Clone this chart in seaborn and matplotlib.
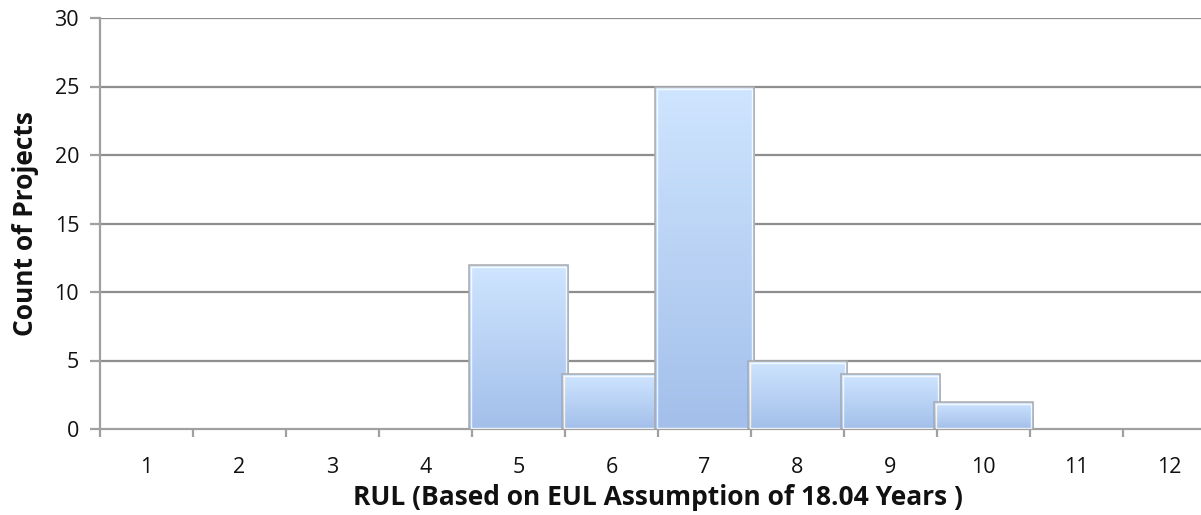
import numpy as np
import matplotlib
matplotlib.use("Agg")
import matplotlib.pyplot as plt
from matplotlib.patches import Rectangle
from matplotlib.colors import LinearSegmentedColormap
import seaborn as sns

# Histogram of remaining useful life (years) per project
rul_years = ["1", "2", "3", "4", "5", "6", "7", "8", "9", "10", "11", "12"]
project_counts = [0, 0, 0, 0, 12, 4, 25, 5, 4, 2, 0, 0]
y_ticks = [0, 5, 10, 15, 20, 25, 30]

x_title = "RUL (Based on EUL Assumption of 18.04 Years )"
y_title = "Count of Projects"

sns.set_style("white")
plt.rcParams["font.family"] = ["Open Sans", "DejaVu Sans"]

W, H = 1201, 515
fig = plt.figure(figsize=(W / 100, H / 100), dpi=100)
ax = fig.add_axes([100 / W, 86 / H, 1116 / W, 411 / H])

sns.barplot(x=rul_years, y=project_counts, order=rul_years, width=1.065,
            color="#b8d2f5", edgecolor="#a9a9a9", linewidth=1.1,
            saturation=1, ax=ax, zorder=3)

ax.set_xlim(-0.5, len(rul_years) - 0.5)
ax.set_ylim(0, 30)
ax.set_yticks(y_ticks)
ax.set_yticklabels([str(t) for t in y_ticks])

grid_col = "#8e8e8e"
axis_col = "#a0a0a0"
for y in y_ticks[1:]:
    ax.axhline(y, color=grid_col, lw=1.6, zorder=1)

for s in ["top", "right"]:
    ax.spines[s].set_visible(False)
for s in ["left", "bottom"]:
    ax.spines[s].set_color(axis_col)
    ax.spines[s].set_linewidth(1.6)

# category labels centred, tick marks on the category boundaries
ax.set_xticks(np.arange(len(rul_years)))
ax.set_xticklabels(rul_years)
ax.set_xticks(np.arange(-0.5, len(rul_years)), minor=True)
ax.tick_params(axis="x", which="major", length=0, pad=20, labelsize=15.5,
               labelcolor="#111111")
ax.tick_params(axis="x", which="minor", length=6, width=1.6, color=axis_col,
               direction="out", bottom=True)
ax.tick_params(axis="y", which="major", length=7, width=1.6, color=axis_col,
               direction="out", left=True, pad=8, labelsize=15.5,
               labelcolor="#111111")
ax.set_xlabel("")
ax.set_ylabel("")

# vertical gradient fill clipped to each bar, plus a thin light inner border;
# later bars sit on top of the edges of earlier ones
cmap = LinearSegmentedColormap.from_list("barfill", ["#a3bfea", "#cfe5ff"])
grad = np.linspace(0, 1, 256).reshape(-1, 1)
fig.canvas.draw()
inv = ax.transData.inverted()
px = inv.transform((2, 0))[0] - inv.transform((0, 0))[0]
py = inv.transform((0, 2))[1] - inv.transform((0, 0))[1]
for i, p in enumerate(list(ax.patches)):
    h = p.get_height()
    if h <= 0:
        p.set_visible(False)
        continue
    z = 3 + 0.1 * i
    x0, w = p.get_x(), p.get_width()
    p.set_facecolor("none")
    p.set_zorder(z + 0.02)
    im = ax.imshow(grad, cmap=cmap, origin="lower", aspect="auto",
                   extent=(x0, x0 + w, 0, h), zorder=z,
                   interpolation="bicubic")
    im.set_clip_path(p)
    ax.add_patch(Rectangle((x0 + px, py * 0.5), w - 2 * px, h - 1.5 * py,
                           fill=False, edgecolor="white", lw=1.0, alpha=0.8,
                           zorder=z + 0.04))
ax.set_xlim(-0.5, len(rul_years) - 0.5)
ax.set_ylim(0, 30)

ax_pos = ax.get_position()
fig.text((ax_pos.x0 + ax_pos.x1) / 2, 1 - 505 / H, x_title, ha="center",
         va="baseline", fontsize=19, fontweight="bold", color="#111111")
fig.text(33 / W, (ax_pos.y0 + ax_pos.y1) / 2, y_title, ha="center",
         va="baseline", rotation=90, rotation_mode="anchor", fontsize=19,
         fontweight="bold", color="#111111")

fig.savefig("out.png", dpi=100)
